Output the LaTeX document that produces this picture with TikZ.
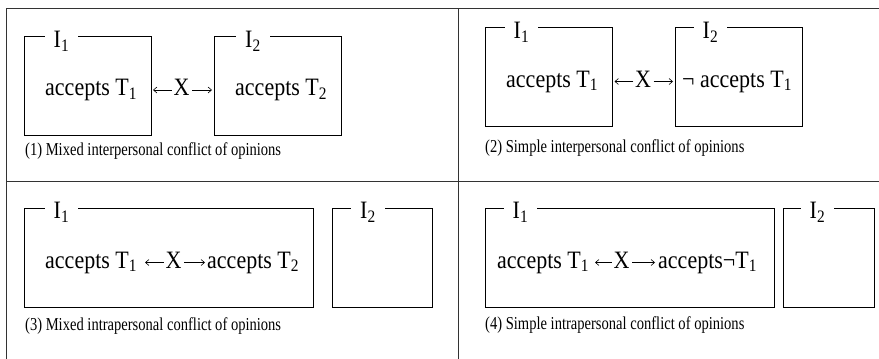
\documentclass[tikz,border=0pt]{standalone}
\usepackage{fontspec}
\setmainfont{Liberation Serif}
\newfontfamily\narrowserif[FakeStretch=0.88]{Liberation Serif}
\newfontfamily\capserif[FakeStretch=0.8]{Liberation Serif}
\usetikzlibrary{arrows.meta}
\begin{document}
\begin{tikzpicture}[x=1pt,y=-1pt,
  box/.style={draw, line width=1pt, inner sep=0pt, outer sep=0pt},
  bigfont/.style={font=\narrowserif\fontsize{25}{30}\selectfont},
  lab/.style={bigfont, fill=white, inner xsep=9pt, inner ysep=1pt, anchor=base},
  txt/.style={bigfont, inner sep=0pt, anchor=base west},
  xs/.style={bigfont, inner sep=0pt, anchor=base},
  captxt/.style={inner sep=0pt, font=\capserif\fontsize{18.2}{22}\selectfont, anchor=base west},
  arr/.style={-{Straight Barb[length=3.5pt,width=6pt]}, line width=0.6pt},
  frame/.style={line width=0.9pt, draw=black!80}]
\useasboundingbox (0,0) rectangle (879,359);
% frame
\coordinate (ftr) at (879,8);
\coordinate (ftl) at (6,8);
\coordinate (fbl) at (6,359);
\coordinate (fvt) at (458,8);
\coordinate (fvb) at (458,359);
\coordinate (fhl) at (6,181);
\coordinate (fhr) at (879,181);
\draw[frame] (ftr) -- (ftl) -- (fbl);
\draw[frame] (fvt) -- (fvb);
\draw[frame] (fhl) -- (fhr);
% panel 1
\node[box, minimum width=127pt, minimum height=99pt] (b1) at (87.5,85.5) {};
\node[box, minimum width=127pt, minimum height=99pt] (b2) at (277.5,85.5) {};
\node[lab] (l1) at (61.5,47.5) {I\textsubscript{1}};
\node[lab] (l2) at (253,47.5) {I\textsubscript{2}};
\node[txt] (t1) at (45,95.5) {accepts T\textsubscript{1}};
\node[txt] (t2) at (235,95.5) {accepts T\textsubscript{2}};
\node[xs] (x1) at (181.5,95.5) {X};
\draw[arr, shorten <=1.5pt, shorten >=2pt] ([yshift=5.5pt]x1.base west) -- ([yshift=5.5pt]x1.base west -| b1.east);
\draw[arr, shorten <=2.5pt, shorten >=2pt] ([yshift=5.5pt]x1.base east) -- ([yshift=5.5pt]x1.base east -| b2.west);
\node[captxt] (c1) at (25,155) {(1) Mixed interpersonal conflict of opinions};
% panel 2
\node[box, minimum width=127pt, minimum height=99pt] (b3) at (548.5,76.5) {};
\node[box, minimum width=127pt, minimum height=99pt] (b4) at (738.5,76.5) {};
\node[lab] (l3) at (521.5,38.5) {I\textsubscript{1}};
\node[lab] (l4) at (710.5,38.5) {I\textsubscript{2}};
\node[txt] (t3) at (506,87) {accepts T\textsubscript{1}};
\node[txt] (t4) at (682,87) {¬ accepts T\textsubscript{1}};
\node[xs] (x2) at (643,87) {X};
\draw[arr, shorten <=1.5pt, shorten >=2.5pt] ([yshift=5.5pt]x2.base west) -- ([yshift=5.5pt]x2.base west -| b3.east);
\draw[arr, shorten <=2.5pt, shorten >=2pt] ([yshift=5.5pt]x2.base east) -- ([yshift=5.5pt]x2.base east -| b4.west);
\node[captxt] (c2) at (485,152) {(2) Simple interpersonal conflict of opinions};
% panel 3
\node[box, minimum width=289pt, minimum height=99pt] (b5) at (168.5,257.5) {};
\node[box, minimum width=100pt, minimum height=99pt] (b6) at (382,257.5) {};
\node[lab] (l5) at (61.5,218.5) {I\textsubscript{1}};
\node[lab] (l6) at (368,218.5) {I\textsubscript{2}};
\node[txt] (t5a) at (45,268) {accepts T\textsubscript{1}};
\node[txt] (t5b) at (207,268) {accepts T\textsubscript{2}};
\node[xs] (x3) at (173.5,268) {X};
\coordinate (p5) at (145,262);
\coordinate (p7) at (595,262);
\draw[arr, shorten <=1.5pt] ([yshift=5.5pt]x3.base west) -- ([yshift=5.5pt]x3.base west -| p5);
\draw[arr, shorten <=2.5pt, shorten >=2pt] ([yshift=5.5pt]x3.base east) -- ([yshift=5.5pt]x3.base east -| t5b.west);
\node[captxt] (c3) at (25,330) {(3) Mixed intrapersonal conflict of opinions};
% panel 4
\node[box, minimum width=289pt, minimum height=99pt] (b7) at (629.5,257.5) {};
\node[box, minimum width=91pt, minimum height=99pt] (b8) at (828.5,257.5) {};
\node[lab] (l7) at (520.5,218.5) {I\textsubscript{1}};
\node[lab] (l8) at (817.5,218.5) {I\textsubscript{2}};
\node[txt] (t6a) at (497,268) {accepts T\textsubscript{1}};
\node[txt] (t6b) at (658,268) {accepts¬T\textsubscript{1}};
\node[xs] (x4) at (621.5,268) {X};
\draw[arr, shorten <=1.5pt] ([yshift=5.5pt]x4.base west) -- ([yshift=5.5pt]x4.base west -| p7);
\draw[arr, shorten <=2.5pt, shorten >=3pt] ([yshift=5.5pt]x4.base east) -- ([yshift=5.5pt]x4.base east -| t6b.west);
\node[captxt] (c4) at (485,329) {(4) Simple intrapersonal conflict of opinions};
\end{tikzpicture}
\end{document}
